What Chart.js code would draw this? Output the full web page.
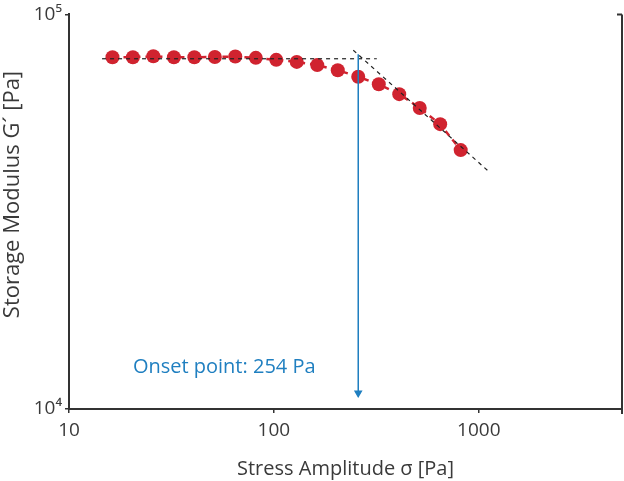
<!DOCTYPE html>
<html>
<head>
<meta charset="utf-8">
<script src="https://cdn.jsdelivr.net/npm/chart.js@4.4.1/dist/chart.umd.min.js"></script>
<style>
  html, body { margin: 0; padding: 0; background: #fff; }
  #wrap { width: 624px; height: 481px; position: relative; }
</style>
</head>
<body>
<div id="wrap"><canvas id="modulusChart"></canvas></div>
<script>
// stress sweep data
const stressPa = [16.3, 20.5, 25.8, 32.5, 40.9, 51.5, 64.8, 81.6, 102.7, 129.3, 162.8, 205, 258, 325, 409, 515, 648, 816];
const storageModulusPa = [77900, 77900, 78300, 77900, 77900, 78000, 78200, 77600, 76700, 75800, 74400, 72200, 69500, 66500, 62800, 57900, 52700, 45300];

// tangent lines used to find the onset
const plateauX = [14.5, 318];
const plateauY = [77200, 77200];
const slopeX = [244, 1109];
const slopeY = [81150, 40140];

// onset marker
const onsetX = [258, 258];
const onsetY = [79300, 10975];
const onsetLabel = 'Onset point: 254 Pa';
const onsetLabelAt = [20.5, 12770];

const xTicks = [10, 100, 1000];
const xTickLabels = ['10', '100', '1000'];
const yTicks = [10000, 100000];
const yTickLabels = ['10\u2074', '10\u2075'];

const axisColor = '#333333';
const textColor = '#3a3a3a';
const fontFamily = '"Open Sans", Lato, sans-serif';

function toPoints(xs, ys) {
    return xs.map((x, i) => ({ x: x, y: ys[i] }));
}

// right frame line plus the little end ticks
const frameRight = {
    id: 'frameRight',
    afterDraw(chart) {
        const a = chart.chartArea;
        const c = chart.ctx;
        c.save();
        c.strokeStyle = axisColor;
        c.lineWidth = 2;
        c.beginPath();
        c.moveTo(a.right, a.top);
        c.lineTo(a.right, a.bottom + 5);
        c.moveTo(a.right, a.top);
        c.lineTo(a.right - 5, a.top);
        c.stroke();
        c.restore();
    }
};

const onsetText = {
    id: 'onsetText',
    afterDatasetsDraw(chart) {
        const c = chart.ctx;
        c.save();
        c.fillStyle = '#1f7fc0';
        c.font = '20px ' + fontFamily;
        c.textAlign = 'left';
        c.textBaseline = 'middle';
        c.fillText(onsetLabel,
            chart.scales.x.getPixelForValue(onsetLabelAt[0]),
            chart.scales.y.getPixelForValue(onsetLabelAt[1]));
        c.restore();
    }
};

new Chart(document.getElementById('modulusChart'), {
    type: 'line',
    data: {
        datasets: [
            {
                label: 'onset',
                data: toPoints(onsetX, onsetY),
                borderColor: '#1f7fc0',
                backgroundColor: '#1f7fc0',
                borderWidth: 1.5,
                pointStyle: 'triangle',
                rotation: 180,
                pointRadius: [0, 3.5],
                order: 0
            },
            {
                label: 'plateau',
                data: toPoints(plateauX, plateauY),
                borderColor: '#222',
                borderWidth: 1.2,
                borderDash: [4, 4],
                pointRadius: 0,
                order: 1
            },
            {
                label: 'slope',
                data: toPoints(slopeX, slopeY),
                borderColor: '#222',
                borderWidth: 1.2,
                borderDash: [4, 4],
                pointRadius: 0,
                order: 1
            },
            {
                label: "G'",
                data: toPoints(stressPa, storageModulusPa),
                borderColor: '#d0232f',
                backgroundColor: '#d0232f',
                borderWidth: 2.5,
                borderDash: [6, 5],
                pointRadius: 7,
                pointBorderWidth: 0,
                order: 2
            }
        ]
    },
    options: {
        responsive: true,
        maintainAspectRatio: false,
        animation: false,
        layout: { autoPadding: false, padding: { top: 13, right: 2, left: 0, bottom: 0 } },
        plugins: {
            legend: { display: false },
            tooltip: { enabled: false }
        },
        scales: {
            x: {
                type: 'logarithmic',
                min: 10,
                max: 5000,
                afterBuildTicks: function(scale) {
                    scale.ticks = xTicks.map(v => ({ value: v }));
                },
                afterFit: function(scale) {
                    scale.height = 72;
                    scale.paddingLeft = 0;
                    scale.paddingRight = 0;
                },
                ticks: {
                    color: textColor,
                    font: { family: fontFamily, size: 19 },
                    padding: 6,
                    maxRotation: 0,
                    callback: function(value) {
                        const i = xTicks.indexOf(value);
                        return i >= 0 ? xTickLabels[i] : '';
                    }
                },
                grid: {
                    drawOnChartArea: false,
                    drawTicks: true,
                    tickLength: 4,
                    color: axisColor,
                    lineWidth: 1.5
                },
                border: { display: true, color: axisColor, width: 2 },
                title: {
                    display: true,
                    text: 'Stress Amplitude \u03c3 [Pa]',
                    color: textColor,
                    font: { family: fontFamily, size: 20 },
                    padding: { top: 0, bottom: 0 }
                }
            },
            y: {
                type: 'logarithmic',
                min: 10000,
                max: 100000,
                afterBuildTicks: function(scale) {
                    scale.ticks = yTicks.map(v => ({ value: v }));
                },
                afterFit: function(scale) {
                    scale.width = 69;
                },
                ticks: {
                    color: textColor,
                    font: { family: fontFamily, size: 19 },
                    padding: 3,
                    callback: function(value) {
                        const i = yTicks.indexOf(value);
                        return i >= 0 ? yTickLabels[i] : '';
                    }
                },
                grid: {
                    drawOnChartArea: false,
                    drawTicks: true,
                    tickLength: 4,
                    color: axisColor,
                    lineWidth: 1.5
                },
                border: { display: true, color: axisColor, width: 2 },
                title: {
                    display: true,
                    text: '      Storage Modulus G\u00b4 [Pa]',
                    color: textColor,
                    font: { family: fontFamily, size: 22 },
                    padding: { top: 0, bottom: 2 }
                }
            }
        }
    },
    plugins: [frameRight, onsetText]
});
</script>
</body>
</html>
